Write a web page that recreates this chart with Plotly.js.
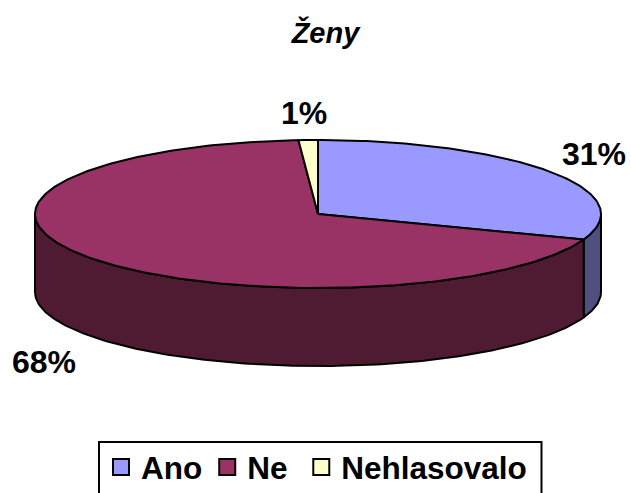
<!DOCTYPE html>
<html><head><meta charset="utf-8">
<script src="https://cdn.plot.ly/plotly-3.0.1.min.js"></script>
<style>html,body{margin:0;padding:0;background:#fff}#c{width:631px;height:493px}</style>
</head><body><div id="c"></div>
<script>
const categories = ['Ano', 'Ne', 'Nehlasovalo'];
const shares = [30.6, 68.3, 1.1];
const topColors = ['#9999FF', '#993366', '#FFFFCC'];
const sideColors = ['#50507F', '#4E1B33', '#80805F'];
const percentLabels = ['31%', '68%', '1%'];
const labelSpots = [[594, 154], [44, 362], [304, 113]];
const titleText = 'Ženy';

const cx = 318, cy = 214, rx = 283, ry = 74, depth = 78;
const total = shares.reduce((a, b) => a + b, 0);
const pt = (deg, dy) => [cx + rx * Math.sin(deg * Math.PI / 180), cy - ry * Math.cos(deg * Math.PI / 180) + dy];
function arc(a, b, dy) {
  const out = [], n = Math.max(2, Math.ceil(Math.abs(b - a)));
  for (let i = 0; i <= n; i++) out.push(pt(a + (b - a) * i / n, dy));
  return out;
}
function area(points, color) {
  return {
    type: 'scatter', mode: 'lines', fill: 'toself', fillcolor: color,
    x: points.map(p => p[0]), y: points.map(p => p[1]),
    line: { color: '#000', width: 2 }, hoverinfo: 'skip', showlegend: false
  };
}
const sides = [], tops = [];
let start = 0;
shares.forEach((v, i) => {
  const end = start + v / total * 360;
  const a = Math.max(start, 90), b = Math.min(end, 270);
  if (b > a) sides.push(area(arc(a, b, 0).concat(arc(b, a, depth)).concat([pt(a, 0)]), sideColors[i]));
  tops.push(area([[cx, cy]].concat(arc(start, end, 0)).concat([[cx, cy]]), topColors[i]));
  start = end;
});
const legendItems = categories.map((name, i) => ({
  type: 'scatter', mode: 'markers', name: '<b>' + name + '</b>' + (i === 1 ? '\u00A0' : ''), x: [null], y: [null],
  marker: { symbol: 'square', size: 21, color: topColors[i], line: { color: '#000', width: 2 } }
}));
const font = { family: '"Liberation Sans", Arial, sans-serif', size: 32, color: '#000' };
const annotations = percentLabels.map((t, i) => ({
  xref: 'x', yref: 'y', x: labelSpots[i][0], y: labelSpots[i][1], text: '<b>' + t + '</b>',
  showarrow: false, font, xanchor: 'center', yanchor: 'middle'
}));
const hidden = { visible: false, fixedrange: true };
Plotly.newPlot('c', sides.concat(tops, legendItems), {
  width: 631, height: 493, margin: { l: 0, r: 0, t: 0, b: 0, autoexpand: false },
  paper_bgcolor: '#fff', plot_bgcolor: '#fff',
  title: { text: '<b><i>' + titleText + '</i></b>', x: 325.5 / 631, xanchor: 'center', y: 1 - 33 / 493, yanchor: 'middle',
    font: { family: font.family, size: 29, color: '#000' } },
  xaxis: Object.assign({ range: [0, 631] }, hidden),
  yaxis: Object.assign({ range: [493, 0] }, hidden),
  annotations,
  shapes: [{ type: 'rect', xref: 'x', yref: 'y', x0: 99, x1: 541.5, y0: 442, y1: 500, line: { color: '#000', width: 2 }, fillcolor: '#fff', layer: 'below' }],
  showlegend: true,
  legend: { orientation: 'h', x: 101 / 631, y: 1 - 440 / 493, xanchor: 'left', yanchor: 'top',
    borderwidth: 0, bgcolor: 'rgba(0,0,0,0)', font: Object.assign({}, font, { size: 31.5 }), itemwidth: 30, itemclick: false, itemdoubleclick: false }
}, { displayModeBar: false, staticPlot: true });
</script></body></html>
